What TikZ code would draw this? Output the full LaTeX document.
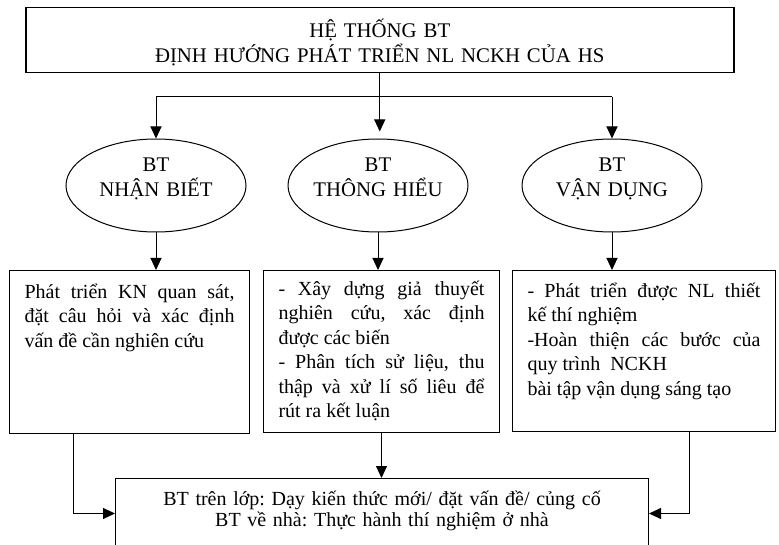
\documentclass[tikz,border=0pt]{standalone}
\usepackage{fontspec}
\setmainfont{Liberation Serif}
\usetikzlibrary{shapes.geometric,arrows.meta}

\begin{document}
\frenchspacing
\begin{tikzpicture}[x=1pt,y=-1pt,
    every node/.style={font=\fontsize{20}{24.5}\selectfont},
    box/.style={draw,line width=1pt,inner ysep=0pt,inner xsep=15pt,align=justify},
    oval/.style={draw,ellipse,line width=1pt,inner xsep=-2pt,inner ysep=0pt,minimum width=180pt,
      minimum height=93pt,text width=130pt,align=center,text height=15pt,text depth=42pt,
      font=\fontsize{20.8}{24.5}\selectfont},
    arr/.style={line width=1pt,-{Triangle[length=12pt,width=11pt]}},
    ln/.style={line width=1pt}]
  \useasboundingbox (0,0) rectangle (779,545);
  \clip (0,0) rectangle (779,545);

  % top
  \node[draw,line width=1.5pt,inner sep=0pt,anchor=north west,text width=708pt,
    align=center,text height=30pt,text depth=35pt,font=\fontsize{20.8}{25}\selectfont]
    (top) at (25,7) {HỆ THỐNG BT\\ĐỊNH HƯỚNG PHÁT TRIỂN NL NCKH CỦA HS};

  % three kinds
  \node[oval] (nb) at (156,185.5) {BT\\NHẬN BIẾT};
  \node[oval] (th) at (378,185.5) {BT\\THÔNG HIỂU};
  \node[oval] (vd) at (612,185.5) {BT\\VẬN DỤNG};

  \node[box,anchor=north west,text width=210pt,text height=28pt,text depth=135pt]
    (b1) at (9,270) {Phát triển KN quan sát,\linebreak đặt câu hỏi và xác định\linebreak vấn đề cần nghiên cứu};
  \node[box,anchor=north west,text width=206pt,text height=25pt,text depth=137pt]
    (b2) at (263,270) {- Xây dựng giả thuyết\linebreak nghiên cứu, xác định\linebreak được các biến\par
    - Phân tích sử liệu, thu\linebreak thập và xử lí số liêu để\linebreak rút ra kết luận};
  \node[box,anchor=north west,text width=233pt,text height=27pt,text depth=134pt]
    (b3) at (512,270) {- Phát triển được NL thiết\linebreak kế thí nghiệm\par
    -Hoàn thiện các bước của\linebreak quy trình\ \ NCKH\par
    bài tập vận dụng sáng tạo};

  % bottom
  \node[draw,line width=1pt,inner sep=0pt,anchor=north west,text width=533pt,
    align=center,text height=27pt,text depth=43pt,font=\fontsize{20}{21}\selectfont]
    (bot) at (115,478) {BT trên lớp: Dạy kiến thức mới/ đặt vấn đề/ củng cố\\BT về nhà: Thực hành thí nghiệm ở nhà};

  \coordinate (hub) at (379,97);
  \draw[arr,shorten >=7pt] (top.south) -- (top.south |- th.north);
  \draw[ln] (nb.north |- hub) -- (vd.north |- hub);
  \draw[arr] (nb.north |- hub) -- (nb.north);
  \draw[arr] (vd.north |- hub) -- (vd.north);

  \draw[arr] (nb.south) -- (nb.south |- b1.north);
  \draw[arr] (th.south) -- (th.south |- b2.north);
  \draw[arr] (vd.south) -- (vd.south |- b3.north);

  \draw[arr] ([xshift=-56pt]b1.south) |- (bot.west);
  \draw[arr] (b2.south) -- (b2.south |- bot.north);
  \draw[arr] ([xshift=45.5pt]b3.south) |- (bot.east);
\end{tikzpicture}
\end{document}
